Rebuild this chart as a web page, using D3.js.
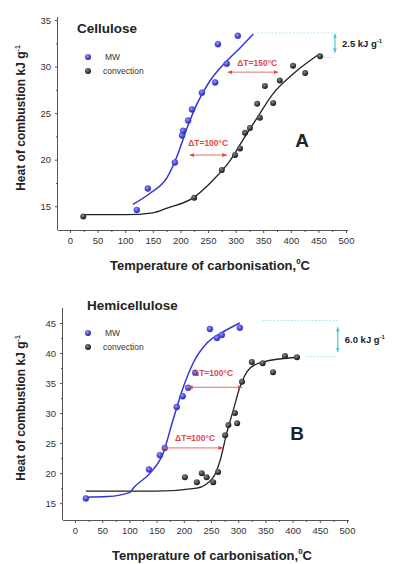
<!DOCTYPE html>
<html>
<head>
<meta charset="utf-8">
<script src="https://cdn.jsdelivr.net/npm/d3@7"></script>
<style>
body { margin: 0; background: #fff; }
svg { font-family: "Liberation Sans", Arial, sans-serif; }
</style>
</head>
<body>
<div id="chart"></div>
<script>
// ---- data ----
var xTicks = [0, 50, 100, 150, 200, 250, 300, 350, 400, 450, 500];

// Cellulose (panel A)
var celMwT   = [121, 141, 190, 203, 205, 214, 221, 239, 263, 284, 268, 304];
var celMwQ   = [14.6, 16.9, 19.7, 22.6, 23.1, 24.2, 25.4, 27.2, 28.3, 30.3, 32.4, 33.3];
var celConvT = [24, 225, 275, 299, 308, 317, 326, 344, 339, 368, 353, 380, 404, 426, 453];
var celConvQ = [13.9, 15.9, 18.9, 20.5, 21.2, 22.9, 23.4, 24.5, 26.0, 26.1, 27.9, 28.5, 30.1, 29.3, 31.1];
var celMwFitT   = [114, 145, 176, 196, 212, 230, 254, 284, 308, 332];
var celMwFitQ   = [15.2, 16.4, 18.1, 20.7, 23.4, 26.0, 28.5, 30.6, 32.0, 33.5];
var celConvFitT = [24, 100, 150, 176, 223, 259, 290, 313, 339, 368, 404, 453];
var celConvFitQ = [14.1, 14.1, 14.3, 14.8, 15.9, 17.8, 19.9, 22.1, 24.5, 27.1, 29.2, 31.4];
var celYTicks = [15, 20, 25, 30, 35];

// Hemicellulose (panel B)
var hemMwT   = [20, 136, 156, 165, 187, 198, 208, 221, 248, 261, 270, 303];
var hemMwQ   = [15.8, 20.6, 23.0, 24.2, 31.0, 32.8, 34.2, 36.7, 44.0, 42.5, 43.0, 44.2];
var hemConvT = [202, 224, 233, 242, 254, 263, 276, 282, 298, 294, 307, 325, 345, 364, 386, 408];
var hemConvQ = [19.3, 18.5, 20.0, 19.3, 18.5, 20.2, 26.3, 28.0, 28.3, 30.0, 35.2, 38.5, 38.3, 36.8, 39.5, 39.3];
var hemMwFitT   = [20, 60, 101, 107, 138, 162, 180, 199, 217, 243, 272, 303];
var hemMwFitQ   = [16.0, 16.1, 16.8, 17.5, 20.0, 23.3, 28.8, 34.3, 38.3, 41.7, 43.5, 45.0];
var hemConvFitT = [20, 150, 224, 254, 267, 279, 291, 303, 322, 345, 408];
var hemConvFitQ = [17.0, 17.0, 17.5, 19.3, 22.2, 26.7, 30.5, 34.3, 37.5, 38.5, 39.3];
var hemYTicks = [15, 20, 25, 30, 35, 40, 45];

var svg = d3.select("#chart").append("svg")
  .attr("width", 393).attr("height", 564);

var defs = svg.append("defs");
function ball(id, c0, c1) {
  var g = defs.append("radialGradient").attr("id", id)
    .attr("cx", "40%").attr("cy", "35%").attr("r", "65%");
  g.append("stop").attr("offset", "0%").attr("stop-color", c0);
  g.append("stop").attr("offset", "100%").attr("stop-color", c1);
}
ball("gMw", "#9a9aff", "#1c1c9a");
ball("gConv", "#888", "#111");
defs.append("marker").attr("id", "arrRed")
  .attr("viewBox", "0 0 10 10").attr("refX", 9).attr("refY", 5)
  .attr("markerWidth", 5).attr("markerHeight", 5).attr("orient", "auto-start-reverse")
  .append("path").attr("d", "M0,1L10,5L0,9z").attr("fill", "#e04848");
defs.append("marker").attr("id", "arrCyan")
  .attr("viewBox", "0 0 10 10").attr("refX", 9).attr("refY", 5)
  .attr("markerWidth", 4).attr("markerHeight", 4).attr("orient", "auto-start-reverse")
  .append("path").attr("d", "M0,1L10,5L0,9z").attr("fill", "#4cc8dc");

function zipPts(a, b) { return a.map(function(v, i) { return [v, b[i]]; }); }

function panel(o) {
  var g = svg.append("g");
  var x = d3.scaleLinear().domain([0, 500]).range([o.x0, o.x1]);
  var y = d3.scaleLinear().domain(o.yDom).range([o.yb, o.yt]);

  // axes
  var xa = g.append("g").attr("transform", "translate(0," + o.yb + ")")
    .call(d3.axisBottom(x).tickValues(xTicks).tickSize(3).tickPadding(4));
  xa.select(".domain").attr("d", "M" + o.axL + ",0.5H" + (o.x1 + 2));
  var xm = g.append("g").attr("transform", "translate(0," + o.yb + ")")
    .call(d3.axisBottom(x).tickValues(d3.range(25, 500, 50)).tickSize(2).tickFormat(""));
  xm.select(".domain").remove();

  var ya = g.append("g").attr("transform", "translate(" + o.axL + ",0)")
    .call(d3.axisLeft(y).tickValues(o.yTicks).tickSize(3).tickPadding(4));
  ya.select(".domain").attr("d", "M-0.5," + (o.yb) + "V" + (o.axT));
  var minor = o.yTicks.map(function(v) { return v + 2.5; }).filter(function(v) { return v < o.yDom[1]; });
  var ym = g.append("g").attr("transform", "translate(" + o.axL + ",0)")
    .call(d3.axisLeft(y).tickValues(minor).tickSize(2).tickFormat(""));
  ym.select(".domain").remove();
  g.selectAll(".tick text").attr("font-size", 9.5).attr("fill", "#333");
  g.selectAll(".domain, .tick line").attr("stroke", "#555");

  // axis titles
  var xt = g.append("text").attr("x", o.xTitleX).attr("y", o.xTitleY)
    .attr("text-anchor", "middle").attr("font-size", 13).attr("font-weight", "bold").attr("fill", "#222");
  xt.append("tspan").text("Temperature of carbonisation,");
  xt.append("tspan").attr("dy", -6).attr("font-size", 8).text("0");
  xt.append("tspan").attr("dy", 6).text("C");

  var yt = g.append("text")
    .attr("transform", "translate(" + o.yTitleX + "," + o.yTitleY + ") rotate(-90)")
    .attr("text-anchor", "middle").attr("font-size", 12).attr("font-weight", "bold").attr("fill", "#222");
  yt.append("tspan").text("Heat of combustion kJ g");
  yt.append("tspan").attr("dy", -5).attr("font-size", 7).text("-1");

  // fitted curves
  var line = d3.line().x(function(d) { return x(d[0]); }).y(function(d) { return y(d[1]); })
    .curve(d3.curveMonotoneX);
  g.append("path").attr("d", line(zipPts(o.convFitT, o.convFitQ)))
    .attr("fill", "none").attr("stroke", "#222").attr("stroke-width", 1.3);
  g.append("path").attr("d", line(zipPts(o.mwFitT, o.mwFitQ)))
    .attr("fill", "none").attr("stroke", "#3535d8").attr("stroke-width", 1.5);

  // points
  g.selectAll(".pc").data(zipPts(o.convT, o.convQ)).enter().append("circle")
    .attr("cx", function(d) { return x(d[0]); }).attr("cy", function(d) { return y(d[1]); })
    .attr("r", 3).attr("fill", "url(#gConv)");
  g.selectAll(".pm").data(zipPts(o.mwT, o.mwQ)).enter().append("circle")
    .attr("cx", function(d) { return x(d[0]); }).attr("cy", function(d) { return y(d[1]); })
    .attr("r", 3).attr("fill", "url(#gMw)").attr("stroke", "#4a4aff").attr("stroke-width", 0.6);

  // title and legend
  g.append("text").attr("x", o.titleX).attr("y", o.titleY).attr("font-size", 13.5)
    .attr("font-weight", "bold").attr("fill", "#222").text(o.title);
  g.append("circle").attr("cx", 88).attr("cy", o.legY - 3).attr("r", 3).attr("fill", "url(#gMw)");
  g.append("text").attr("x", 105).attr("y", o.legY).attr("font-size", 8.5).attr("fill", "#333").text("MW");
  g.append("circle").attr("cx", 88).attr("cy", o.legY + 11).attr("r", 3).attr("fill", "url(#gConv)");
  g.append("text").attr("x", 103).attr("y", o.legY + 14).attr("font-size", 8.5).attr("fill", "#333").text("convection");

  // panel letter
  g.append("text").attr("x", o.letX).attr("y", o.letY).attr("font-size", 19)
    .attr("font-weight", "bold").attr("fill", "#222").attr("text-anchor", "middle").text(o.letter);

  // delta T annotations
  o.dts.forEach(function(a) {
    g.append("text").attr("x", x(a.tx)).attr("y", y(a.ty)).attr("font-size", 8.5)
      .attr("font-weight", "bold").attr("fill", "#e04848").text(a.label);
    g.append("line").attr("x1", x(a.a0)).attr("x2", x(a.a1)).attr("y1", y(a.ay)).attr("y2", y(a.ay))
      .attr("stroke", "#e07070").attr("stroke-width", 1)
      .attr("marker-start", "url(#arrRed)").attr("marker-end", "url(#arrRed)");
  });

  // difference bracket
  var b = o.bracket;
  g.append("line").attr("x1", x(b.l0)).attr("x2", x(b.bx)).attr("y1", y(b.d1)).attr("y2", y(b.d1))
    .attr("stroke", "#aee8f1").attr("stroke-width", 1).attr("stroke-dasharray", "2,1.5");
  g.append("line").attr("x1", x(b.l1)).attr("x2", x(b.bx)).attr("y1", y(b.d0)).attr("y2", y(b.d0))
    .attr("stroke", "#aee8f1").attr("stroke-width", 1).attr("stroke-dasharray", "2,1.5");
  g.append("line").attr("x1", x(b.bx)).attr("x2", x(b.bx)).attr("y1", y(b.q1)).attr("y2", y(b.q0))
    .attr("stroke", "#4cc8dc").attr("stroke-width", 1.2)
    .attr("marker-start", "url(#arrCyan)").attr("marker-end", "url(#arrCyan)");
  var bt = g.append("text").attr("x", x(b.bx) + 7).attr("y", (y(b.q0) + y(b.q1)) / 2 + 3.5)
    .attr("font-size", 9.5).attr("font-weight", "bold").attr("fill", "#222");
  bt.append("tspan").text(b.label + " kJ g");
  bt.append("tspan").attr("dy", -4).attr("font-size", 6).text("-1");
}

panel({
  x0: 70, x1: 346, axL: 58, axT: 17, yb: 230, yt: 20, yDom: [12.45, 35],
  yTicks: celYTicks, xTitleX: 210, xTitleY: 270, yTitleX: 25, yTitleY: 118,
  mwT: celMwT, mwQ: celMwQ, convT: celConvT, convQ: celConvQ,
  mwFitT: celMwFitT, mwFitQ: celMwFitQ, convFitT: celConvFitT, convFitQ: celConvFitQ,
  title: "Cellulose", titleX: 77, titleY: 33, legY: 60,
  letter: "A", letX: 302, letY: 147,
  dts: [
    { label: "\u0394T=150\u00b0C", tx: 303, ty: 30.1, a0: 286, a1: 377, ay: 29.4 },
    { label: "\u0394T=100\u00b0C", tx: 214, ty: 21.45, a0: 217, a1: 284, ay: 20.5 }
  ],
  bracket: { label: "2.5", bx: 480, l0: 340, l1: 460, d0: 31.0, d1: 33.6, q0: 31.5, q1: 33.5 }
});

panel({
  x0: 75, x1: 347, axL: 63, axT: 308, yb: 520, yt: 323, yDom: [12.2, 45],
  yTicks: hemYTicks, xTitleX: 212, xTitleY: 560, yTitleX: 25, yTitleY: 408,
  mwT: hemMwT, mwQ: hemMwQ, convT: hemConvT, convQ: hemConvQ,
  mwFitT: hemMwFitT, mwFitQ: hemMwFitQ, convFitT: hemConvFitT, convFitQ: hemConvFitQ,
  title: "Hemicellulose", titleX: 87, titleY: 310, legY: 336,
  letter: "B", letX: 297, letY: 440,
  dts: [
    { label: "\u0394T=100\u00b0C", tx: 217, ty: 36.2, a0: 208, a1: 307, ay: 34.3 },
    { label: "\u0394T=100\u00b0C", tx: 184, ty: 25.4, a0: 160, a1: 272, ay: 24.2 }
  ],
  bracket: { label: "6.0", bx: 483, l0: 345, l1: 425, d0: 39.4, d1: 45.4, q0: 40.2, q1: 44.3 }
});
</script>
</body>
</html>
